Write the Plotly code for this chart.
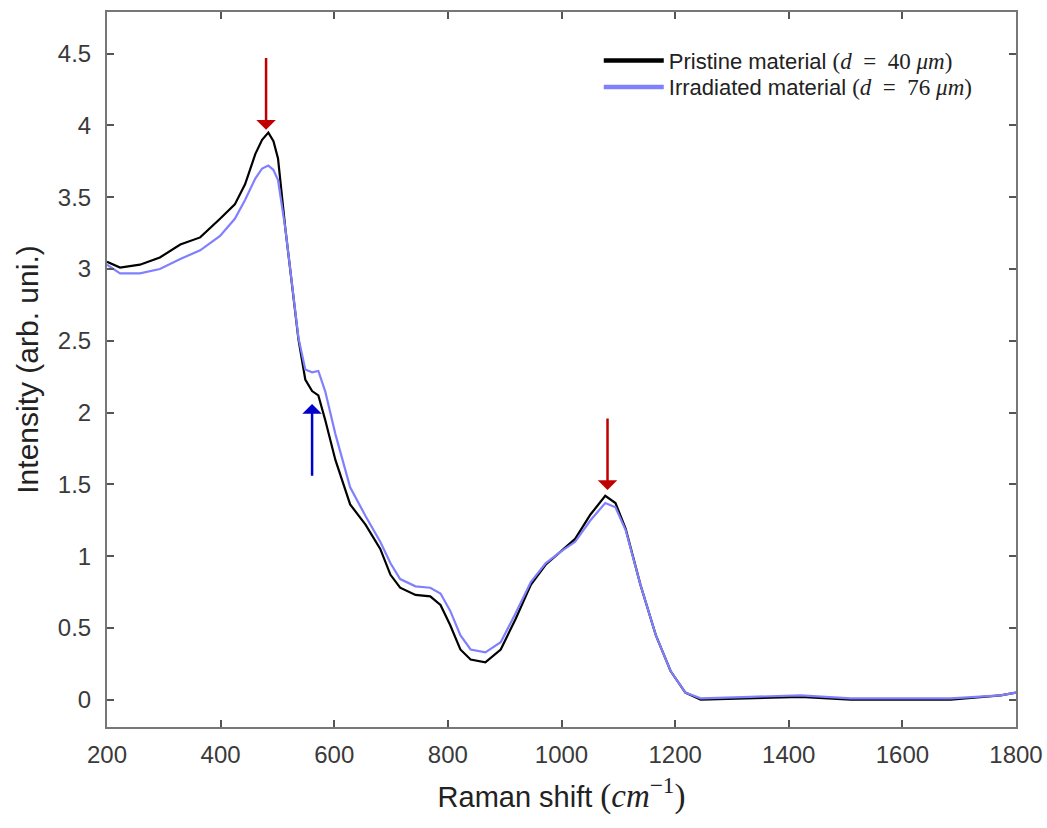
import plotly.graph_objects as go

raman_shift = [200, 223, 258, 293, 329, 364, 399, 425, 443, 461, 473, 484, 493, 501,
               514, 526, 537, 549, 561, 572, 584, 602, 628, 655, 681, 699, 716, 743,
               769, 787, 804, 822, 840, 866, 893, 919, 946, 972, 998, 1024, 1051, 1077,
               1095, 1113, 1139, 1166, 1192, 1218, 1245, 1333, 1421, 1509, 1597, 1685,
               1773, 1800]

pristine = [3.05, 3.01, 3.03, 3.08, 3.17, 3.22, 3.35, 3.45, 3.59, 3.80, 3.90, 3.95, 3.89, 3.77,
            3.28, 2.86, 2.51, 2.23, 2.15, 2.12, 1.95, 1.67, 1.36, 1.22, 1.05, 0.87, 0.78, 0.73,
            0.72, 0.66, 0.52, 0.35, 0.28, 0.26, 0.35, 0.56, 0.80, 0.94, 1.03, 1.12, 1.29, 1.42,
            1.37, 1.19, 0.80, 0.45, 0.20, 0.05, 0.00, 0.01, 0.02, 0.00, 0.00, 0.00,
            0.03, 0.05]

irradiated = [3.03, 2.97, 2.97, 3.00, 3.07, 3.13, 3.23, 3.35, 3.48, 3.63, 3.70, 3.72, 3.69, 3.62,
              3.28, 2.86, 2.52, 2.30, 2.28, 2.29, 2.15, 1.85, 1.48, 1.28, 1.10, 0.95, 0.84, 0.79,
              0.78, 0.74, 0.62, 0.45, 0.35, 0.33, 0.40, 0.60, 0.82, 0.95, 1.03, 1.10, 1.25, 1.37,
              1.34, 1.18, 0.80, 0.45, 0.20, 0.05, 0.01, 0.02, 0.03, 0.01, 0.01, 0.01,
              0.03, 0.05]

x_ticks = [200, 400, 600, 800, 1000, 1200, 1400, 1600, 1800]
y_ticks = [0, 0.5, 1, 1.5, 2, 2.5, 3, 3.5, 4, 4.5]
y_tick_labels = ["0", "0.5", "1", "1.5", "2", "2.5", "3", "3.5", "4", "4.5"]

SERIF = "font-family:Liberation Serif;font-size:23px"
SERIF_T = "font-family:Liberation Serif;font-size:33px"
series_names = [
    f"Pristine material <span style='{SERIF}'>(<i>d</i>&nbsp;&nbsp;=&nbsp;&nbsp;40&nbsp;<i>μm</i>)</span>",
    f"Irradiated material <span style='{SERIF}'>(<i>d</i>&nbsp;&nbsp;=&nbsp;&nbsp;76&nbsp;<i>μm</i>)</span>",
]
series_colors = ["black", "#8080ff"]
legend_ids = ["legend", "legend2"]

# arrows: (x, head_y, tail_y, colour)
arrow_x = [480, 1081, 561]
arrow_head = [3.97, 1.46, 2.06]
arrow_tail = [4.48, 1.97, 1.55]
arrow_color = ["#c00000", "#c00000", "#0000cc"]

fig = go.Figure()
for ys, nm, col in zip([pristine, irradiated], series_names, series_colors):
    fig.add_trace(go.Scatter(x=raman_shift, y=ys, mode="lines",
                             line=dict(color=col, width=2.2), name=nm, showlegend=False))
# legend-only entries with thicker lines, one legend per row for tight spacing
for nm, col, lg in zip(series_names, series_colors, legend_ids):
    fig.add_trace(go.Scatter(x=[None], y=[None], mode="lines",
                             line=dict(color=col, width=4.5), name=nm,
                             showlegend=True, legend=lg))

for ax_, hy, ty, c in zip(arrow_x, arrow_head, arrow_tail, arrow_color):
    fig.add_annotation(x=ax_, y=hy, ax=ax_, ay=ty, xref="x", yref="y",
                       axref="x", ayref="y", text="", showarrow=True,
                       arrowhead=1, arrowsize=1.3, arrowwidth=2.5, arrowcolor=c)

axis_common = dict(showline=True, linecolor="#777777", linewidth=2, mirror="ticks",
                   ticks="inside", ticklen=7, tickwidth=1.5, tickcolor="#555555",
                   showgrid=False, zeroline=False, automargin=False,
                   tickfont=dict(family="Liberation Sans, Arial", size=24, color="#3a3a3a"))

fig.update_xaxes(range=[200, 1800], tickvals=x_ticks, ticklabelstandoff=5,
                 title=dict(text=f"Raman shift <span style='{SERIF_T}'>(<i>cm</i><sup>−1</sup>)</span>",
                            font=dict(family="Liberation Sans, Arial", size=29, color="#222222"),
                            standoff=20),
                 **axis_common)
fig.update_yaxes(range=[-0.19, 4.79], tickvals=y_ticks, ticktext=y_tick_labels,
                 ticklabelstandoff=9,
                 title=dict(text="Intensity (arb. uni.)",
                            font=dict(family="Liberation Sans, Arial", size=30, color="#222222"),
                            standoff=10),
                 **axis_common)

legend_common = dict(xanchor="left", yanchor="middle", bgcolor="rgba(0,0,0,0)",
                     font=dict(family="Liberation Sans, Arial", size=22, color="#222222"),
                     itemwidth=60, borderwidth=0)
fig.update_layout(
    width=1047, height=828,
    margin=dict(l=107, r=31, t=12, b=101),
    paper_bgcolor="white", plot_bgcolor="white",
    showlegend=True,
    legend=dict(x=0.541, y=0.932, **legend_common),
    legend2=dict(x=0.541, y=0.895, **legend_common),
)

fig.write_html("out.html")
